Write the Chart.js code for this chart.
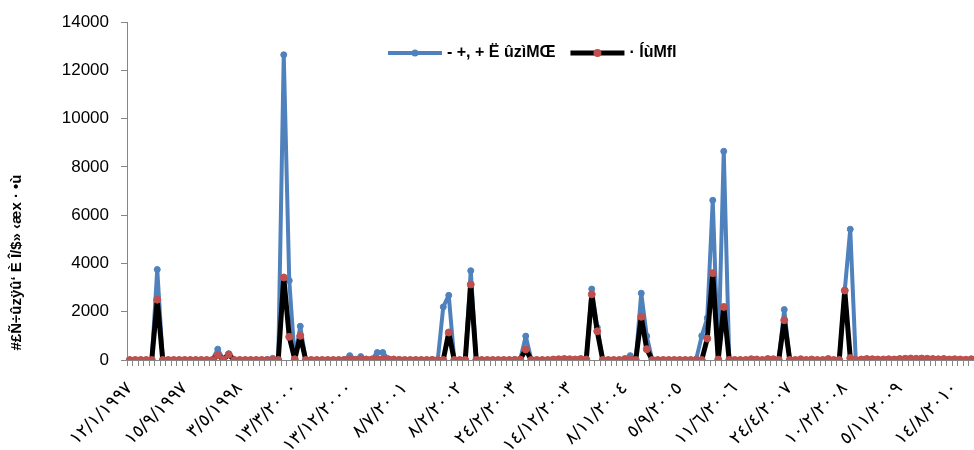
<!DOCTYPE html>
<html>
<head>
<meta charset="utf-8">
<script src="https://cdn.jsdelivr.net/npm/chart.js@4"></script>
<style>
  html, body { margin: 0; padding: 0; background: #fff; overflow: hidden; }
  #wrap { width: 974px; height: 520px; }
</style>
</head>
<body>
<div id="wrap"><canvas id="myChart" width="974" height="520"></canvas></div>
<script>
// x labels shown every 10th point
const tickLabels = [
  "١٢/١/١٩٩٧", "١٥/٩/١٩٩٧", "٣/٥/١٩٩٨", "١٣/٣/٢٠٠٠", "١٣/١٢/٢٠٠٠", "٨/٧/٢٠٠١",
  "٨/٢/٢٠٠٢", "٢٤/٢/٢٠٠٣", "١٤/١٢/٢٠٠٣", "٨/١١/٢٠٠٤", "٥/٩/٢٠٠٥", "١١/٦/٢٠٠٦",
  "٢٤/٤/٢٠٠٧", "١٠/٢/٢٠٠٨", "٥/١١/٢٠٠٩", "١٤/٨/٢٠١٠",
];
const yTickValues = [0, 2000, 4000, 6000, 8000, 10000, 12000, 14000];
const seriesNames = ["- +, + Ë ûzìMŒ", "· ÍùMﬂ"];
const yTitle = "#£Ñ÷ûzÿû‘ È Î/$» ‹æx · •ù";

const blueValues = [
  0, 0, 0, 0, 0, 3750, 0, 0, 0, 0,
  0, 0, 0, 0, 0, 0, 450, 30, 260, 0,
  0, 0, 0, 0, 0, 20, 70, 0, 12650, 3290,
  30, 1400, 0, 0, 0, 0, 0, 0, 0, 20,
  180, 30, 140, 30, 30, 310, 310, 50, 20, 20,
  0, 0, 0, 0, 0, 20, 0, 2200, 2680, 0,
  0, 0, 3700, 0, 0, 0, 0, 0, 0, 0,
  20, 20, 990, 20, 0, 0, 0, 20, 30, 40,
  30, 20, 40, 20, 2940, 1350, 0, 0, 0, 0,
  60, 180, 0, 2770, 990, 0, 0, 0, 0, 0,
  0, 0, 0, 40, 1000, 1740, 6620, 0, 8650, 0,
  0, 0, 0, 30, 20, 0, 40, 30, 0, 2090,
  0, 0, 30, 0, 20, 0, 0, 40, 0, 0,
  2880, 5420, 0, 20, 40, 30, 20, 20, 30, 20,
  40, 50, 60, 50, 60, 50, 40, 30, 40, 20,
  30, 20, 10, 30,
];
const redValues = [
  0, 0, 0, 0, 0, 2500, 0, 0, 0, 0,
  0, 0, 0, 0, 0, 0, 200, 30, 230, 0,
  0, 0, 0, 0, 0, 0, 0, 0, 3420, 960,
  30, 1000, 0, 0, 0, 0, 0, 0, 0, 0,
  40, 0, 40, 20, 20, 40, 40, 20, 20, 0,
  0, 0, 0, 0, 0, 0, 0, 0, 1140, 0,
  0, 0, 3130, 0, 0, 0, 0, 0, 0, 0,
  0, 20, 440, 0, 0, 0, 0, 20, 30, 40,
  30, 20, 40, 20, 2720, 1190, 0, 0, 0, 0,
  20, 20, 0, 1790, 450, 0, 0, 0, 0, 0,
  0, 0, 0, 0, 0, 890, 3600, 20, 2200, 0,
  0, 0, 0, 30, 20, 0, 40, 30, 0, 1650,
  0, 0, 30, 0, 20, 0, 0, 40, 0, 0,
  2880, 80, 0, 20, 40, 30, 20, 20, 30, 20,
  40, 50, 60, 50, 60, 50, 40, 30, 40, 20,
  30, 20, 10, 30,
];

const categories = blueValues.map((_, i) => (i % 10 === 0 ? tickLabels[i / 10] : ""));

// excel style legend (line + marker) sitting inside the plot, plus the y title
const excelLegend = {
  id: "excelLegend",
  afterDraw(chart) {
    const ctx = chart.ctx;
    ctx.save();
    ctx.font = "bold 16px 'Liberation Sans', Arial, sans-serif";
    ctx.textBaseline = "middle";
    ctx.textAlign = "left";
    let x = 388;
    const y = 53;
    chart.data.datasets.forEach((ds) => {
      ctx.strokeStyle = ds.borderColor;
      ctx.lineWidth = ds.borderWidth;
      ctx.beginPath();
      ctx.moveTo(x, y);
      ctx.lineTo(x + 54, y);
      ctx.stroke();
      ctx.fillStyle = ds.pointBackgroundColor;
      ctx.beginPath();
      ctx.arc(x + 27, y, ds.pointRadius + 0.5, 0, Math.PI * 2);
      ctx.fill();
      ctx.fillStyle = "#000";
      ctx.fillText(ds.label, x + 59, y);
      x += 59 + ctx.measureText(ds.label).width + 15;
    });

    ctx.font = "bold 15px 'Liberation Sans', Arial, sans-serif";
    ctx.translate(16.5, 262.5);
    ctx.rotate(-Math.PI / 2);
    ctx.textAlign = "center";
    ctx.fillText(yTitle, 0, 0);
    ctx.restore();
  },
};

const ctx = document.getElementById("myChart").getContext("2d");
new Chart(ctx, {
  type: "line",
  data: {
    labels: categories,
    datasets: [
      {
        label: seriesNames[0],
        data: blueValues,
        borderColor: "#4F81BD",
        backgroundColor: "#4F81BD",
        pointBackgroundColor: "#4F81BD",
        pointBorderColor: "#4F81BD",
        borderWidth: 4,
        borderJoinStyle: "round",
        pointRadius: 3,
        pointBorderWidth: 1,
        order: 2,
      },
      {
        label: seriesNames[1],
        data: redValues,
        borderColor: "#000000",
        backgroundColor: "#000000",
        pointBackgroundColor: "#C0504D",
        pointBorderColor: "#C0504D",
        borderWidth: 5,
        borderJoinStyle: "round",
        pointRadius: 3.5,
        pointBorderWidth: 1,
        order: 1,
      },
    ],
  },
  options: {
    responsive: false,
    animation: false,
    layout: { autoPadding: false, padding: { top: 20, left: 0, right: 0, bottom: 0 } },
    elements: { line: { tension: 0 } },
    plugins: {
      legend: { display: false },
      tooltip: { enabled: false },
    },
    scales: {
      x: {
        offset: true,
        grid: { offset: true, drawOnChartArea: false, color: "#868686", tickLength: 6 },
        border: { color: "#868686" },
        ticks: {
          autoSkip: false,
          minRotation: 45,
          maxRotation: 45,
          padding: 12,
          color: "#000",
          font: { family: "'DejaVu Sans'", size: 18 },
        },
        afterFit(scale) {
          scale.height = 160;
          scale.paddingLeft = 0;
          scale.paddingRight = 0;
        },
      },
      y: {
        min: yTickValues[0],
        max: yTickValues[yTickValues.length - 1],
        afterBuildTicks(scale) {
          scale.ticks = yTickValues.map((v) => ({ value: v }));
        },
        ticks: {
          padding: 12,
          color: "#000",
          font: { family: "'Liberation Sans'", size: 17 },
          callback: (v) => String(v),
        },
        grid: { drawOnChartArea: false, color: "#868686", tickLength: 6 },
        border: { color: "#868686" },
        afterFit(scale) {
          scale.width = 127;
        },
      },
    },
  },
  plugins: [excelLegend],
});
</script>
</body>
</html>
